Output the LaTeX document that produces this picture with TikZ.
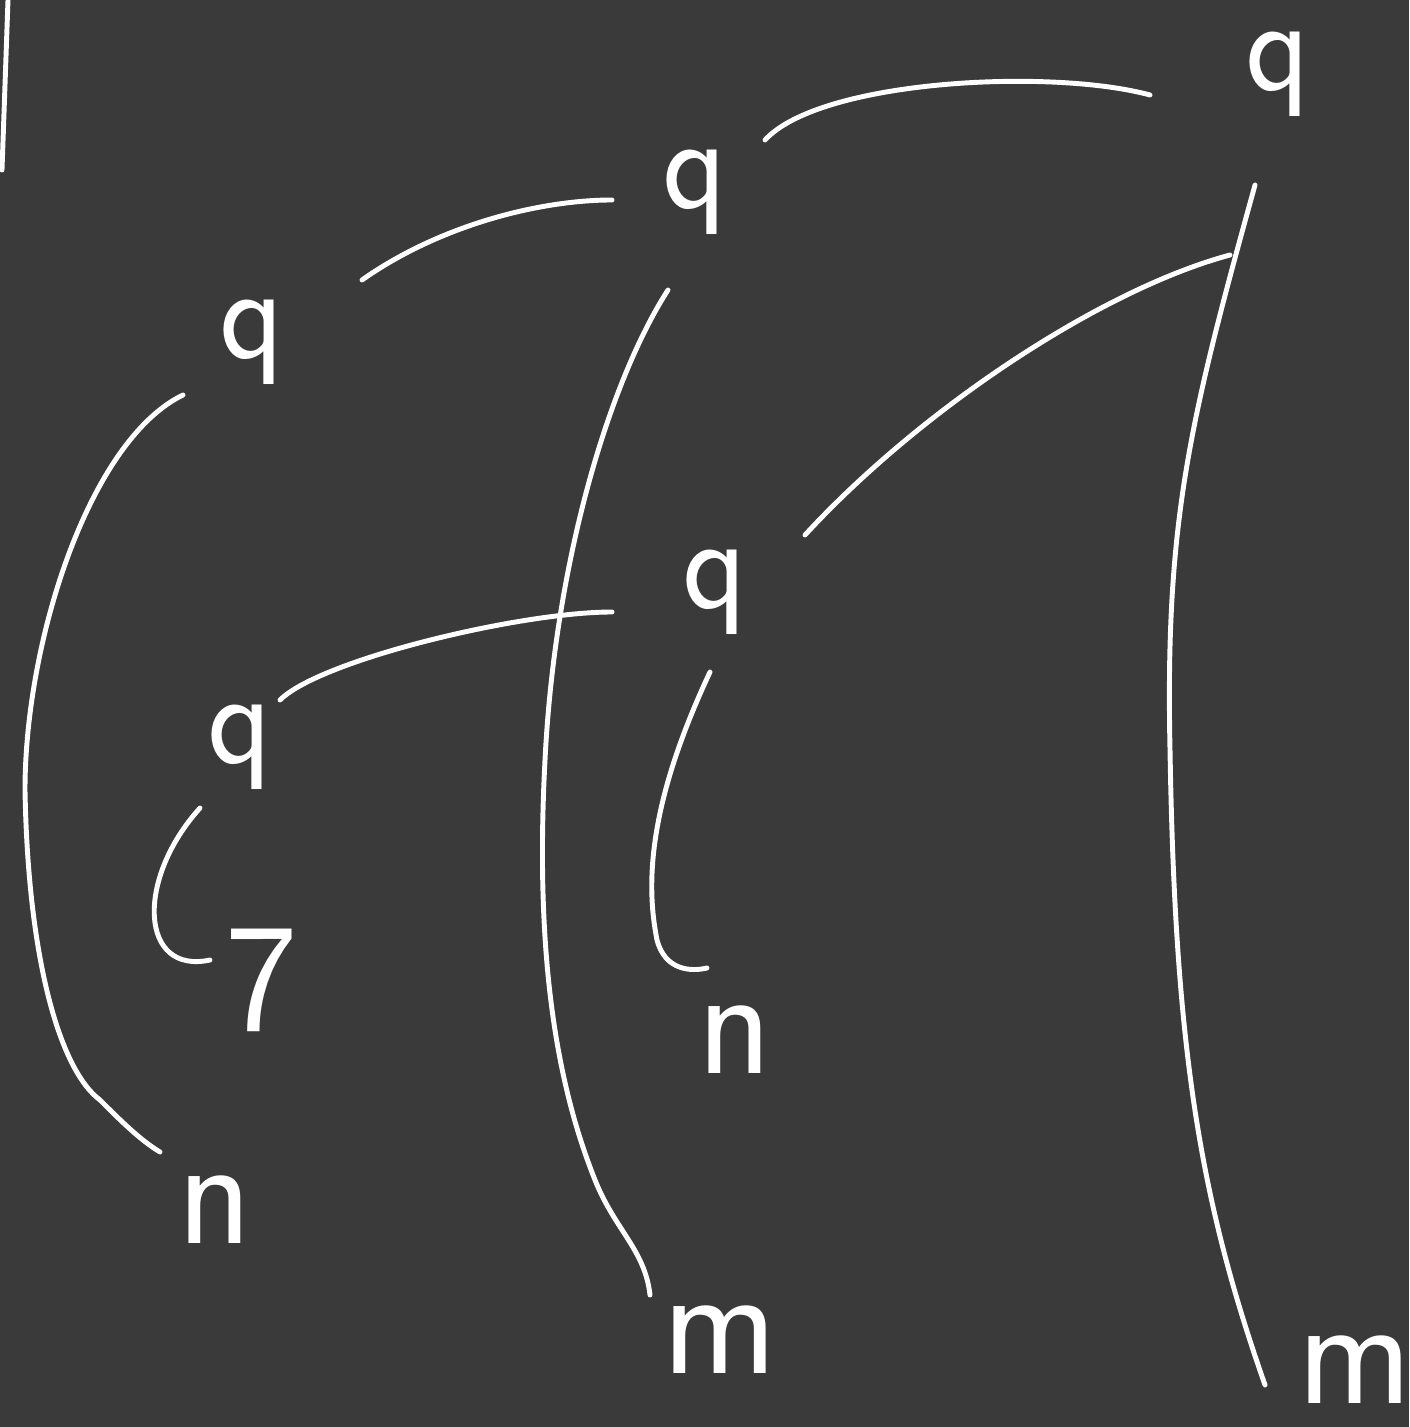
\documentclass[tikz,border=0pt]{standalone}
\usepackage{xcolor}
\definecolor{bgdark}{HTML}{3B3A3B}

\begin{document}
\begin{tikzpicture}[
    letter/.style ={text=white, inner sep=0pt,
                    font=\sffamily\fontsize{38}{42}\selectfont},
    bigletter/.style={letter, font=\sffamily\fontsize{44}{48}\selectfont},
    link/.style   ={draw=white, line width=1.4pt, line cap=round},
]
\fill[bgdark] (0,0) rectangle (14.09,-14.27);
\useasboundingbox (0,0) rectangle (14.09,-14.27);

% letters
\node[letter]    (qa)    at (12.78,-0.74)  {q};
\node[letter]    (qb)    at (6.95,-1.92)   {q};
\node[letter]    (qc)    at (2.52,-3.42)   {q};
\node[letter]    (qd)    at (7.15,-5.92)   {q};
\node[letter]    (qe)    at (2.40,-7.47)   {q};
\node[bigletter] (seven) at (2.62,-9.80)   {7};
\node[bigletter] (na)    at (2.15,-12.10)  {n};
\node[bigletter] (nd)    at (7.35,-10.40)  {n};
\node[bigletter] (mb)    at (7.20,-13.40)  {m};
\node[bigletter] (me)    at (13.55,-13.70) {m};

% stray stroke at the left edge
\draw[link] (0.08,0) -- (0.02,-1.70);

% branches
\draw[link] ([shift={(-1.28,-0.21)}]qa.center) .. controls (10.50,-0.68) and (8.20,-0.80)
            .. ([shift={(0.70,0.52)}]qb.center);
\draw[link] ([shift={(-0.48,-1.81)}]qa.center) .. controls (11.00,-2.90) and (9.20,-4.10)
            .. ([shift={(0.90,0.57)}]qd.center);
\draw[link] ([shift={(-0.23,-1.11)}]qa.center) .. controls (11.90,-4.20) and (11.65,-5.20)
            .. (11.70,-7.50) .. controls (11.75,-10.50) and (12.00,-12.00)
            .. ([shift={(-0.90,-0.15)}]me.center);
\draw[link] ([shift={(-0.83,-0.08)}]qb.center) .. controls (5.40,-2.00) and (4.40,-2.25)
            .. ([shift={(1.10,0.62)}]qc.center);
\draw[link] ([shift={(-0.27,-0.98)}]qb.center) .. controls (6.10,-3.80) and (5.55,-5.60)
            .. (5.45,-7.60) .. controls (5.35,-9.50) and (5.55,-10.80)
            .. (5.95,-11.80) .. controls (6.15,-12.30) and (6.45,-12.50)
            .. ([shift={(-0.70,0.45)}]mb.center);
\draw[link] ([shift={(-0.69,-0.53)}]qc.center) .. controls (0.90,-4.40) and (0.25,-6.40)
            .. (0.25,-7.90) .. controls (0.28,-9.60) and (0.60,-10.70)
            .. (1.00,-11.00) .. controls (1.20,-11.20) and (1.40,-11.40)
            .. ([shift={(-0.55,0.58)}]na.center);
\draw[link] ([shift={(-1.03,-0.20)}]qd.center) .. controls (5.20,-6.12) and (3.20,-6.60)
            .. ([shift={(0.40,0.47)}]qe.center);
\draw[link] ([shift={(-0.05,-0.80)}]qd.center) .. controls (6.50,-8.00) and (6.45,-8.80)
            .. (6.57,-9.40) .. controls (6.65,-9.70) and (6.90,-9.72)
            .. ([shift={(-0.28,0.72)}]nd.center);
\draw[link] ([shift={(-0.40,-0.61)}]qe.center) .. controls (1.35,-8.80) and (1.40,-9.75)
            .. ([shift={(-0.52,0.20)}]seven.center);
\end{tikzpicture}
\end{document}
